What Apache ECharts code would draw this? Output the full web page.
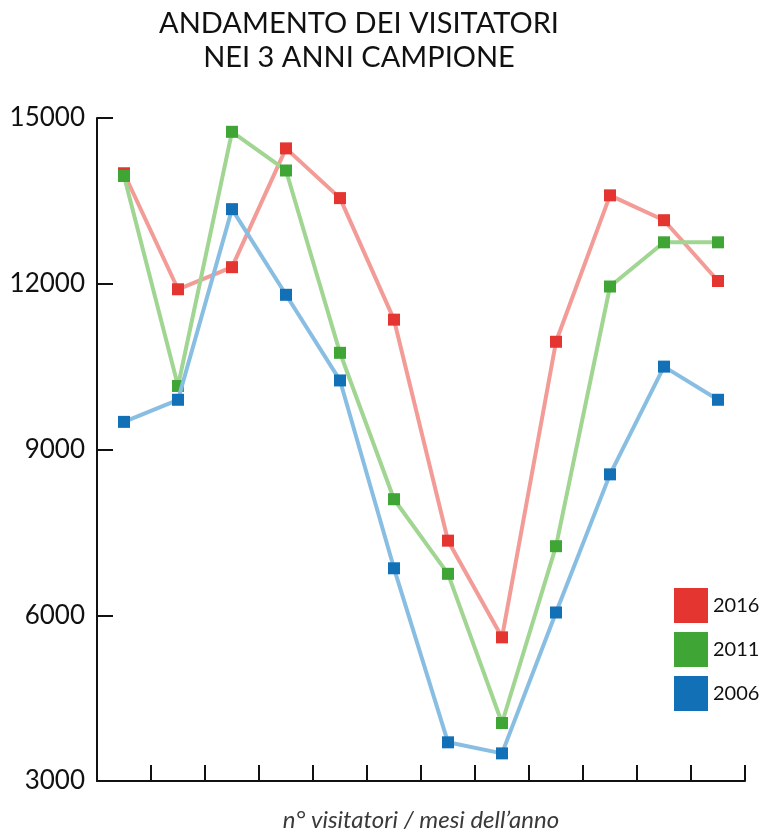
<!DOCTYPE html>
<html>
<head>
<meta charset="utf-8">
<script src="https://cdn.jsdelivr.net/npm/echarts@6/dist/echarts.min.js"></script>
<style>
html,body{margin:0;padding:0;background:#fff;}
#chart{width:764px;height:834px;}
</style>
</head>
<body>
<div id="chart"></div>
<script>
const months = ['Gen','Feb','Mar','Apr','Mag','Giu','Lug','Ago','Set','Ott','Nov','Dic'];
const seriesNames = ['2016','2011','2006'];
const values2016 = [14000,11900,12300,14450,13550,11350,7350,5600,10950,13600,13150,12050];
const values2011 = [13950,10150,14750,14050,10750,8100,6750,4050,7250,11950,12750,12750];
const values2006 = [9500,9900,13350,11800,10250,6850,3700,3500,6050,8550,10500,9900];
const yTicks = [3000,6000,9000,12000,15000];

const markerColors = ['#e53530','#3fa535','#1170b6'];
const lineColors = ['#f29b97','#a0d592','#89bee3'];
const allValues = [values2016, values2011, values2006];

const chart = echarts.init(document.getElementById('chart'), null, {renderer:'canvas'});
const FONT = 'Lato';

chart.setOption({
  animation:false,
  backgroundColor:'#ffffff',
  title:{
    text:'ANDAMENTO DEI VISITATORI\nNEI 3 ANNI CAMPIONE',
    left:359, top:7, textAlign:'center', padding:0,
    textStyle:{fontFamily:FONT, fontSize:29, fontWeight:'normal', color:'#111', lineHeight:34}
  },
  legend:{
    orient:'vertical', left:674, top:588, padding:0,
    itemWidth:34, itemHeight:35, itemGap:9,
    icon:'rect',
    textStyle:{fontFamily:FONT, fontSize:20, color:'#111'},
    data: seriesNames.map((n,i)=>({name:n, icon:'rect', itemStyle:{color:markerColors[i]}}))
  },
  grid:{left:97, right:19, top:118, bottom:53, containLabel:false, outerBoundsMode:'none'},
  xAxis:{
    type:'category', data:months, boundaryGap:true,
    name:'n° visitatori / mesi dell’anno', nameLocation:'middle', nameGap:27,
    nameTextStyle:{fontFamily:FONT, fontSize:24, fontStyle:'italic', color:'#3a3a3a'},
    axisLine:{show:true, lineStyle:{color:'#111', width:2}},
    axisTick:{show:true, inside:true, length:16, lineStyle:{color:'#111', width:2}},
    axisLabel:{show:false},
    splitLine:{show:false}
  },
  yAxis:{
    type:'value', min:yTicks[0], max:yTicks[yTicks.length-1], interval:yTicks[1]-yTicks[0],
    axisLine:{show:true, lineStyle:{color:'#111', width:2}},
    axisTick:{show:true, inside:true, length:16, lineStyle:{color:'#111', width:2}},
    axisLabel:{fontFamily:FONT, fontSize:26, color:'#111', margin:12, formatter:(v)=>String(v)},
    splitLine:{show:false}
  },
  series: seriesNames.map((n,i)=>({
    name:n, type:'line', data:allValues[i],
    symbol:'rect', symbolSize:12,
    lineStyle:{color:lineColors[i], width:4},
    itemStyle:{color:markerColors[i]},
    z:2+i
  }))
});
</script>
</body>
</html>
